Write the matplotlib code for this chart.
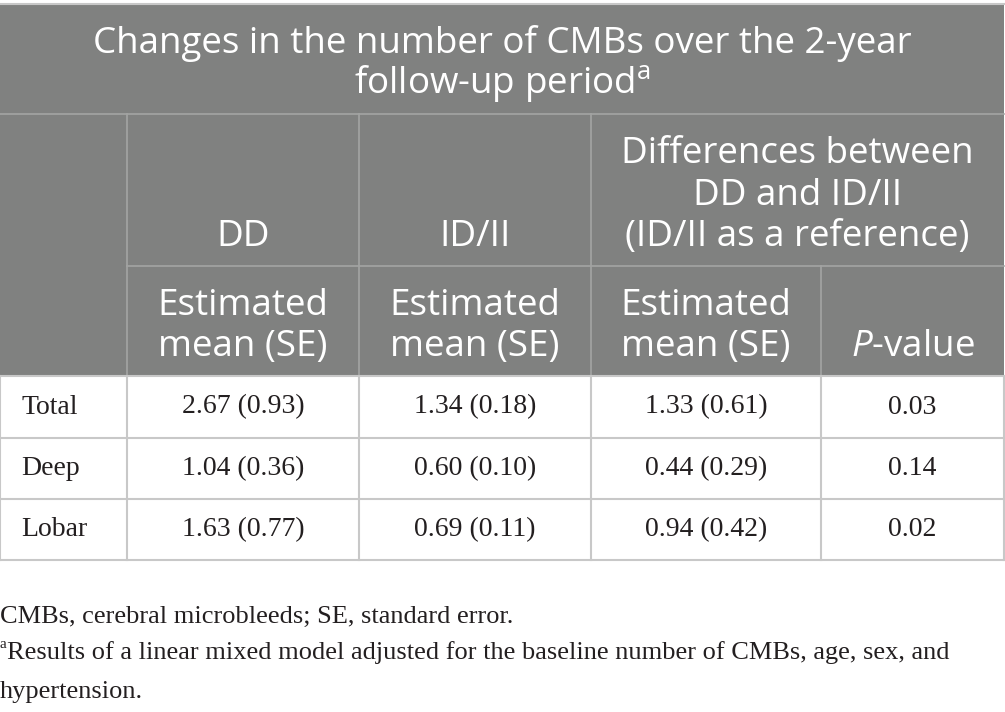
import matplotlib
matplotlib.use('Agg')
from matplotlib import pyplot as plt
from matplotlib.patches import Rectangle

# table content
row_labels = ['Total', 'Deep', 'Lobar']
dd_mean = [2.67, 1.04, 1.63]
dd_se = [0.93, 0.36, 0.77]
idii_mean = [1.34, 0.60, 0.69]
idii_se = [0.18, 0.10, 0.11]
diff_mean = [1.33, 0.44, 0.94]
diff_se = [0.61, 0.29, 0.42]
p_values = [0.03, 0.14, 0.02]

title_lines = ['Changes in the number of CMBs over the 2-year', 'follow-up period']
group_labels = ['DD', 'ID/II', 'Differences between\nDD and ID/II\n(ID/II as a reference)']
sub_label = 'Estimated\nmean (SE)'
footnotes = ['CMBs, cerebral microbleeds; SE, standard error.',
             'Results of a linear mixed model adjusted for the baseline number of CMBs, age, sex, and',
             'hypertension.']

plt.rcParams['mathtext.fontset'] = 'custom'
plt.rcParams['mathtext.rm'] = 'Open Sans'
plt.rcParams['mathtext.it'] = 'Open Sans:italic'

W, H = 1005, 712
fig = plt.figure(figsize=(W / 100, H / 100), dpi=100)
ax = fig.add_axes([0, 0, 1, 1])
ax.set_xlim(0, W)
ax.set_ylim(H, 0)
ax.axis('off')

hdr_bg = '#808180'
hdr_line = '#a3a4a3'
body_line = '#c8c8c8'
txt = '#231f20'
sans = 'Open Sans'
serif = 'Liberation Serif'
hsize = 26.5
bsize = 20
lsp = 1.2

# column edges and row edges (pixels)
cols = [0, 127, 359, 591, 821, 1004]
top, r1, r2, hb = 4, 114, 266, 376
body_rows = [376, 438, 499, 560]

ax.add_patch(Rectangle((0, top), cols[-1], hb - top, color=hdr_bg, lw=0))

# header grid
ax.plot([0, cols[-1]], [top, top], color='#c8c8c8', lw=1.5)
ax.plot([0, cols[-1]], [r1, r1], color=hdr_line, lw=1.2)
ax.plot([cols[1], cols[-1]], [r2, r2], color=hdr_line, lw=1.2)
for x in cols[1:4]:
    ax.plot([x, x], [r1, hb], color=hdr_line, lw=1.2)
ax.plot([cols[4], cols[4]], [r2, hb], color=hdr_line, lw=1.2)

# body grid
for y in body_rows:
    ax.plot([0, cols[-1]], [y, y], color=body_line, lw=1.5)
for x in cols:
    ax.plot([x, x], [hb, body_rows[-1]], color=body_line, lw=1.5)

# title
ax.text((cols[0] + cols[-1]) / 2, 43, title_lines[0], ha='center', va='center',
        color='white', fontsize=hsize, family=sans)
ax.text((cols[0] + cols[-1]) / 2, 83, title_lines[1] + '$^{\\mathrm{a}}$', ha='center',
        va='center', color='white', fontsize=hsize, family=sans)

# group headers (bottom aligned)
centers = [(cols[i] + cols[i + 1]) / 2 for i in range(5)]
ax.text(centers[1], 246, group_labels[0], ha='center', va='baseline', color='white',
        fontsize=hsize, family=sans)
ax.text(centers[2], 246, group_labels[1], ha='center', va='baseline', color='white',
        fontsize=hsize, family=sans)
ax.text((cols[3] + cols[5]) / 2, 246, group_labels[2], ha='center', va='baseline',
        color='white', fontsize=hsize, family=sans, linespacing=lsp)

for c in centers[1:4]:
    ax.text(c, 356, sub_label, ha='center', va='baseline', color='white',
            fontsize=hsize, family=sans, linespacing=lsp)
ax.text(centers[4], 356, '$\\mathit{P}$-value', ha='center', va='baseline',
        color='white', fontsize=hsize, family=sans)

# body
for i, lab in enumerate(row_labels):
    yc = (body_rows[i] + body_rows[i + 1]) / 2
    ax.text(21, yc, lab, ha='left', va='center', fontsize=bsize, family=serif, color=txt)
    cells = ['%.2f (%.2f)' % (dd_mean[i], dd_se[i]),
             '%.2f (%.2f)' % (idii_mean[i], idii_se[i]),
             '%.2f (%.2f)' % (diff_mean[i], diff_se[i]),
             '%.2f' % p_values[i]]
    for j, s in enumerate(cells):
        ax.text(centers[j + 1], yc, s, ha='center', va='center', fontsize=bsize,
                family=serif, color=txt)

# footnotes
fsize = 19
ax.text(0, 617, footnotes[0], ha='left', va='center', fontsize=fsize, family=serif, color=txt)
sup = ax.text(0, 645, 'a', ha='left', va='center', fontsize=11, family=serif, color=txt)
fig.canvas.draw()
bb = sup.get_window_extent().transformed(ax.transData.inverted())
ax.text(bb.x1, 653, footnotes[1], ha='left', va='center', fontsize=fsize, family=serif,
        color=txt)
ax.text(0, 692, footnotes[2], ha='left', va='center', fontsize=fsize, family=serif, color=txt)

fig.savefig('out.png', dpi=100, facecolor='white')
